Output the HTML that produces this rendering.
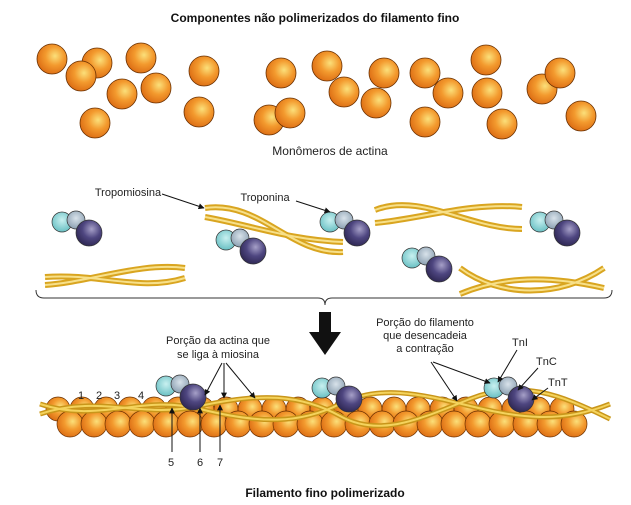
<!DOCTYPE html>
<html><head><meta charset="utf-8"><style>
html,body{margin:0;padding:0;background:#fff;}
svg{display:block;font-family:"Liberation Sans",Arial,sans-serif;}
</style></head><body>
<svg id="s" width="631" height="505" viewBox="0 0 631 505" xmlns="http://www.w3.org/2000/svg">
<defs>
<radialGradient id="og" cx="0.6" cy="0.4" r="0.7">
<stop offset="0" stop-color="#fbe07a"/><stop offset="0.45" stop-color="#f39a2e"/><stop offset="1" stop-color="#d8650f"/>
</radialGradient>
<radialGradient id="pg" cx="0.6" cy="0.35" r="0.7">
<stop offset="0" stop-color="#a6a0c8"/><stop offset="0.5" stop-color="#4e4680"/><stop offset="1" stop-color="#2c2550"/>
</radialGradient>
<radialGradient id="cg" cx="0.5" cy="0.4" r="0.7">
<stop offset="0" stop-color="#c8f0f0"/><stop offset="1" stop-color="#5ab8bc"/>
</radialGradient>
<radialGradient id="gg" cx="0.5" cy="0.4" r="0.7">
<stop offset="0" stop-color="#d8e2ea"/><stop offset="1" stop-color="#7f95a8"/>
</radialGradient>
<marker id="ah" viewBox="0 0 10 10" refX="9" refY="5" markerWidth="6" markerHeight="6" orient="auto"><path d="M0,0 L10,5 L0,10 z" fill="#111"/></marker>
</defs>
<text x="315" y="22" text-anchor="middle" font-size="12" font-weight="bold" fill="#111">Componentes não polimerizados do filamento fino</text>
<g id="mono" stroke="#6a3000" stroke-width="0.8" fill="url(#og)"></g>
<text x="330" y="155" text-anchor="middle" font-size="12" fill="#222">Monômeros de actina</text>

<g fill="none" stroke-linecap="butt">
<g stroke="#d9a520" stroke-width="6">
<path d="M205,208 C260,200 290,255 343,252"/><path d="M205,217 C250,225 290,240 343,242"/>
<path d="M375,210 C420,192 470,229 522,229"/><path d="M375,223 C420,219 470,202 522,207"/>
<path d="M45,285 C90,282 140,262 185,268"/><path d="M45,277 C100,273 140,292 185,278"/>
<path d="M460,268 C500,298 560,298 604,268"/><path d="M460,294 C510,273 560,278 604,288"/>
</g>
<g stroke="#f7e08a" stroke-width="2">
<path d="M205,208 C260,200 290,255 343,252"/><path d="M205,217 C250,225 290,240 343,242"/>
<path d="M375,210 C420,192 470,229 522,229"/><path d="M375,223 C420,219 470,202 522,207"/>
<path d="M45,285 C90,282 140,262 185,268"/><path d="M45,277 C100,273 140,292 185,278"/>
<path d="M460,268 C500,298 560,298 604,268"/><path d="M460,294 C510,273 560,278 604,288"/>
</g></g>
<g id="trop"></g>
<text x="128" y="196" text-anchor="middle" font-size="11" fill="#222">Tropomiosina</text>
<line x1="162" y1="194" x2="204" y2="208" stroke="#111" stroke-width="1" marker-end="url(#ah)"/>
<text x="265" y="201" text-anchor="middle" font-size="11" fill="#222">Troponina</text>
<line x1="296" y1="201" x2="330" y2="212" stroke="#111" stroke-width="1" marker-end="url(#ah)"/>

<path d="M36,290 Q36,298 44,298 L318,298 Q325,298 325,305 Q325,298 332,298 L604,298 Q612,298 612,290" fill="none" stroke="#333" stroke-width="1"/>
<path d="M319,312 L331,312 L331,332 L341,332 L325,355 L309,332 L319,332 z" fill="#111"/>

<g id="fil"></g>

<g font-size="11" fill="#222">
<text x="78" y="399">1</text><text x="96" y="399">2</text><text x="114" y="399">3</text><text x="138" y="399">4</text>
<text x="168" y="466">5</text><text x="197" y="466">6</text><text x="217" y="466">7</text>
<text x="218" y="344" text-anchor="middle">Porção da actina que</text>
<text x="218" y="358" text-anchor="middle">se liga à miosina</text>
<text x="425" y="326" text-anchor="middle">Porção do filamento</text>
<text x="425" y="339" text-anchor="middle">que desencadeia</text>
<text x="425" y="352" text-anchor="middle">a contração</text>
<text x="512" y="346">TnI</text><text x="536" y="365">TnC</text><text x="548" y="386">TnT</text>
</g>
<g stroke="#111" stroke-width="1" marker-end="url(#ah)">
<line x1="172" y1="452" x2="172" y2="408"/><line x1="200" y1="452" x2="200" y2="408"/><line x1="220" y1="452" x2="220" y2="405"/>
<line x1="222" y1="363" x2="205" y2="395"/><line x1="224" y1="363" x2="224" y2="398"/><line x1="226" y1="363" x2="255" y2="398"/>
<line x1="433" y1="362" x2="490" y2="383"/><line x1="431" y1="362" x2="457" y2="401"/>
<line x1="517" y1="350" x2="498" y2="382"/><line x1="538" y1="368" x2="518" y2="390"/><line x1="548" y1="388" x2="532" y2="400"/>
</g>
<text x="325" y="497" text-anchor="middle" font-size="12" font-weight="bold" fill="#111">Filamento fino polimerizado</text>
</svg>
<script>
var NS="http://www.w3.org/2000/svg";
function c(p,x,y,r,f){var e=document.createElementNS(NS,"circle");e.setAttribute("cx",x);e.setAttribute("cy",y);e.setAttribute("r",r);if(f){e.setAttribute("fill",f);e.setAttribute("stroke","#333");e.setAttribute("stroke-width","0.7");}p.appendChild(e);return e;}
var m=document.getElementById("mono");
[[52,59],[97,63],[81,76],[141,58],[204,71],[122,94],[156,88],[95,123],[199,112],[281,73],[327,66],[344,92],[384,73],[376,103],[269,120],[290,113],[425,73],[448,93],[486,60],[487,93],[425,122],[502,124],[542,89],[560,73],[581,116]].forEach(function(p){c(m,p[0],p[1],15);});
function tr(g,x,y){c(g,x,y,10,"url(#cg)");c(g,x+14,y-2,9,"url(#gg)");c(g,x+27,y+11,13,"url(#pg)");}
var t=document.getElementById("trop");
tr(t,62,222);tr(t,226,240);tr(t,330,222);tr(t,412,258);tr(t,540,222);
var f=document.getElementById("fil");
var g1=document.createElementNS(NS,"g");g1.setAttribute("stroke","#6a3000");g1.setAttribute("stroke-width","0.7");g1.setAttribute("fill","url(#og)");f.appendChild(g1);
for(var x=58;x<=585;x+=24){c(g1,x,409,12);}
for(var x=70;x<=575;x+=24){c(g1,x,424,13);}
var gs=document.createElementNS(NS,"g");gs.setAttribute("fill","none");f.appendChild(gs);
function s(d,col,w){var e=document.createElementNS(NS,"path");e.setAttribute("d",d);e.setAttribute("stroke",col);e.setAttribute("stroke-width",w);gs.appendChild(e);}
var d1="M40,404 C100,424 140,394 200,409 S300,424 340,404 S420,394 470,406 S560,424 610,404";
var d2="M40,414 C100,394 140,419 200,406 S300,394 340,416 S420,419 470,399 S560,394 610,419";
s(d1,"#c9961a",5);s(d2,"#c9961a",5);s(d1,"#f4d35c",2);s(d2,"#f4d35c",2);
tr(f,166,386);tr(f,322,388);tr(f,494,388);
</script>
</body></html>
